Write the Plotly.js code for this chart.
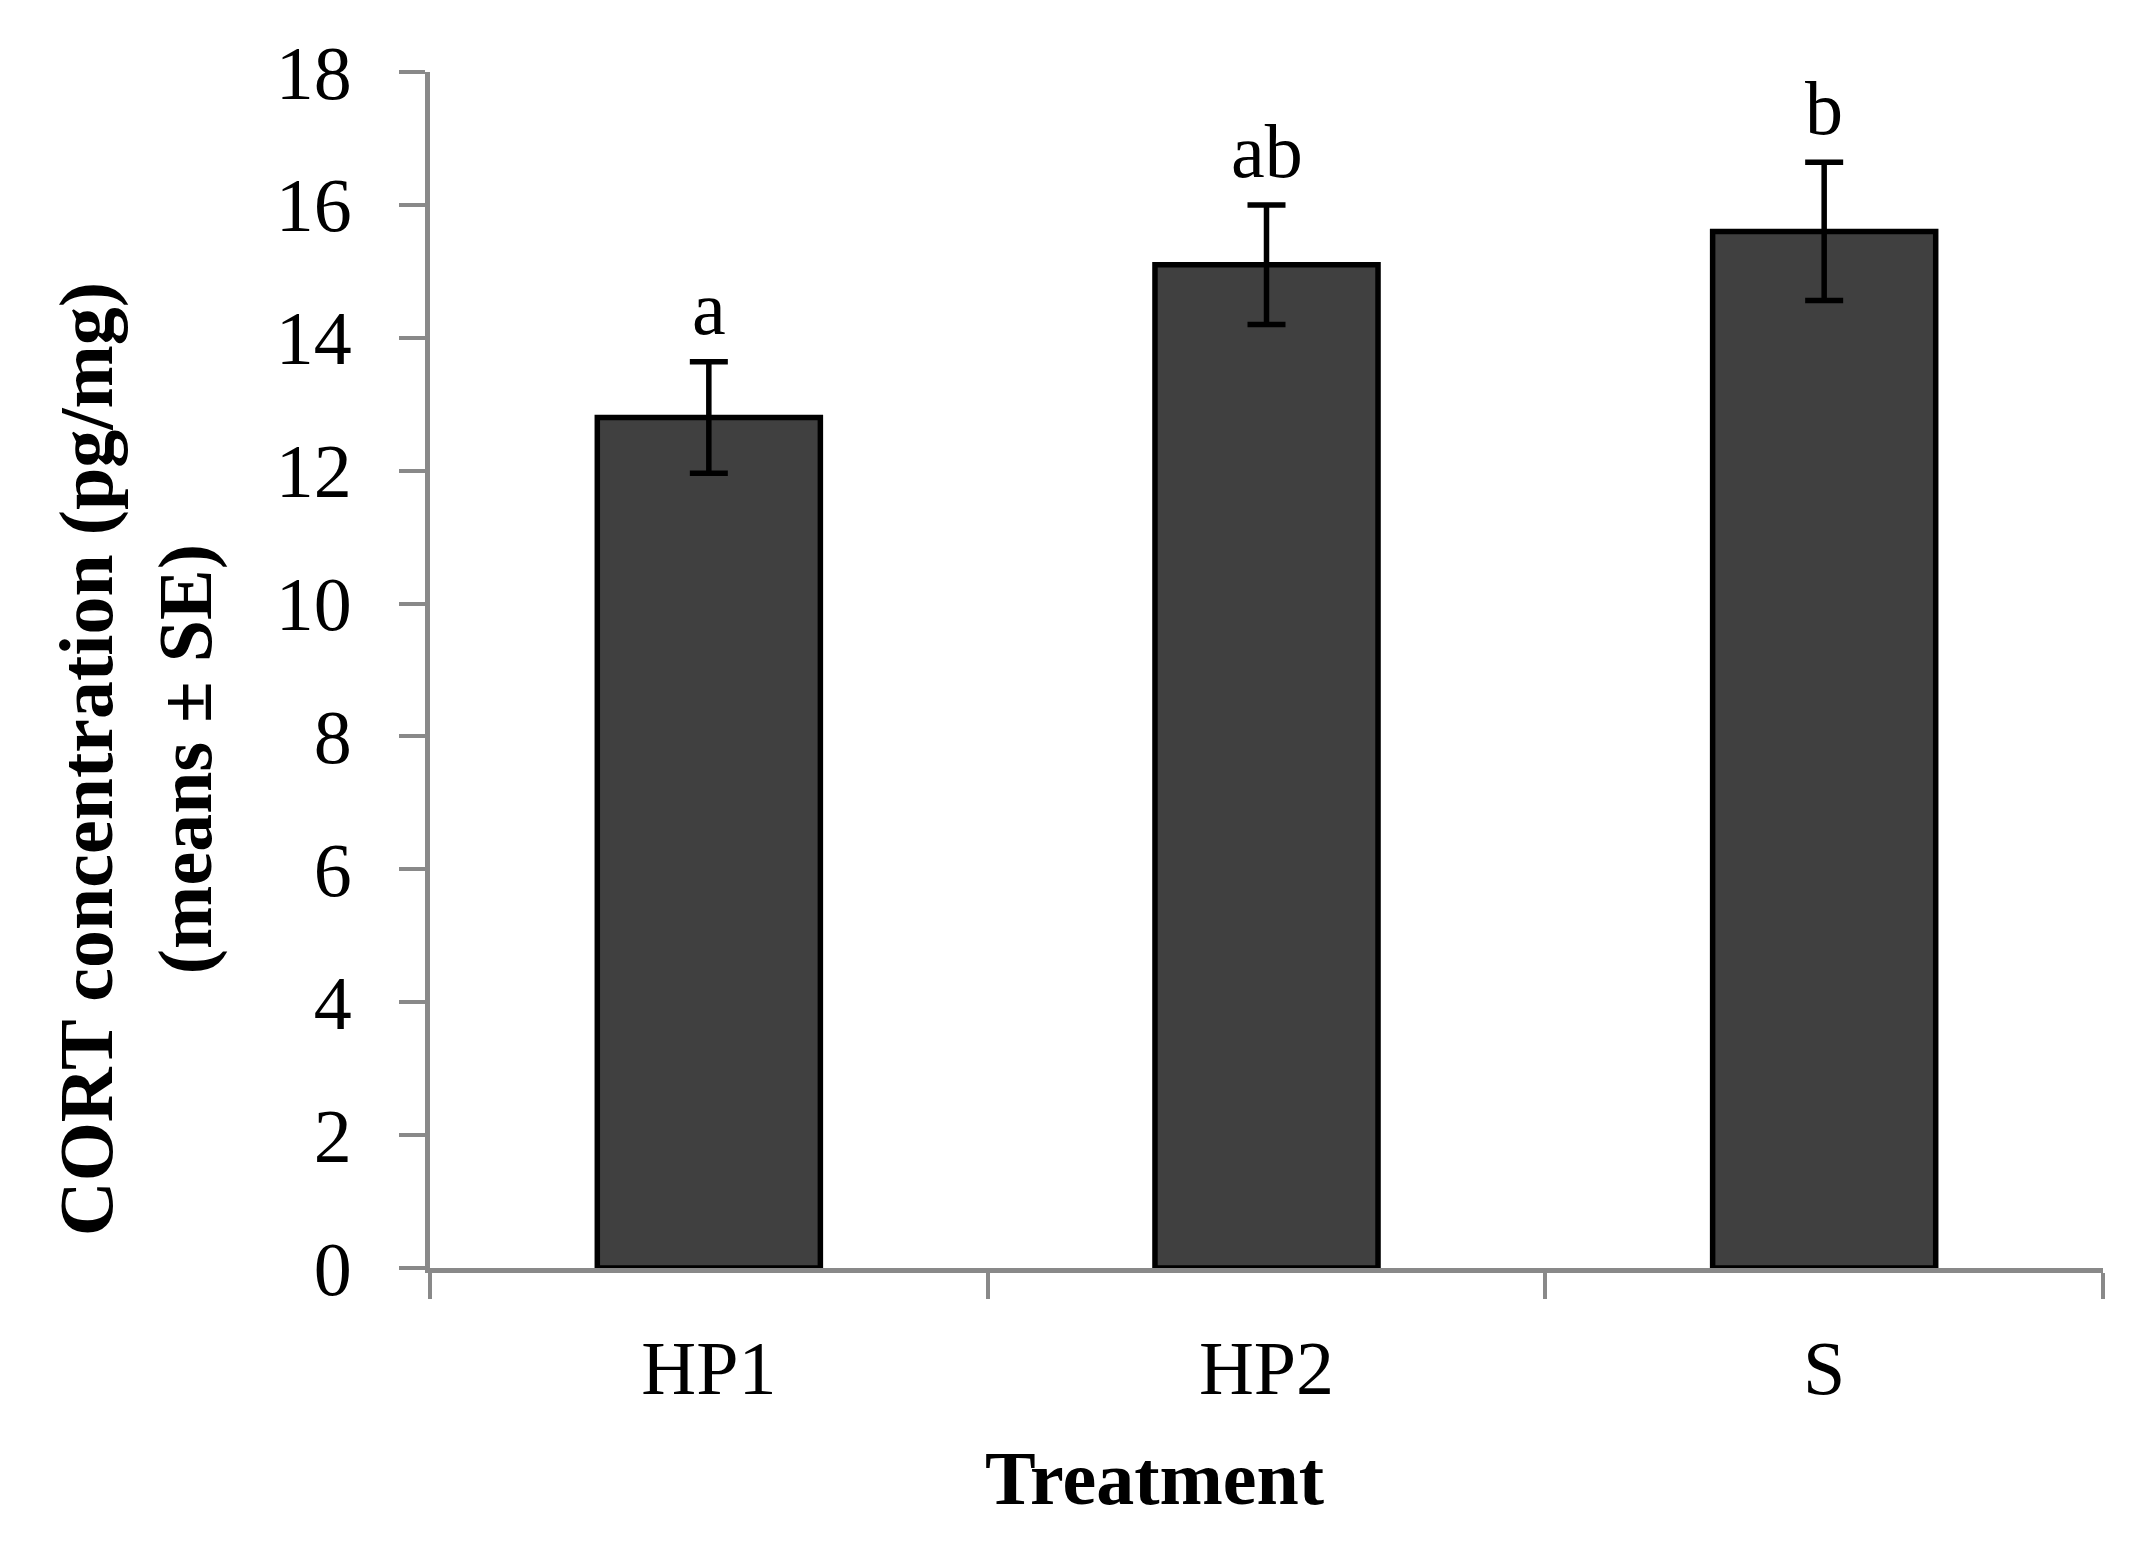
<!DOCTYPE html>
<html>
<head>
<meta charset="utf-8">
<script src="https://cdn.plot.ly/plotly-3.0.1.min.js"></script>
<style>
  html, body { margin: 0; padding: 0; background: #fff; }
  #chart { width: 2148px; height: 1552px; }
</style>
</head>
<body>
<div id="chart"></div>
<script>
// treatment groups and CORT means (pg/mg) with standard errors
const treatments = ['HP1', 'HP2', 'S'];
const means = [12.8, 15.1, 15.6];
const se = [0.84, 0.9, 1.04];
const letters = ['a', 'ab', 'b'];
const yTicks = [0, 2, 4, 6, 8, 10, 12, 14, 16, 18];

const serif = 'Liberation Serif, Times New Roman, serif';
const axisGrey = '#898989';

const bars = {
  type: 'bar',
  x: treatments,
  y: means,
  width: 0.4,
  marker: { color: '#404040', line: { color: '#000', width: 5.5 } },
  error_y: { type: 'data', array: se, visible: true, color: '#000', thickness: 5.5, width: 19 },
  hoverinfo: 'skip'
};

// significance letters sit above each error bar
const letterNotes = treatments.map((t, i) => ({
  x: t, y: means[i] + se[i], xref: 'x', yref: 'y',
  text: letters[i], showarrow: false,
  yanchor: 'bottom', yshift: 10,
  font: { family: serif, size: 76, color: '#000' }
}));

const layout = {
  width: 2148,
  height: 1552,
  margin: { l: 430, r: 45, t: 72, b: 284 },
  paper_bgcolor: '#fff',
  plot_bgcolor: '#fff',
  showlegend: false,
  font: { family: serif, size: 76, color: '#000' },
  xaxis: {
    type: 'category',
    range: [-0.5, 2.5],
    tickson: 'boundaries',
    ticks: 'outside',
    ticklen: 26,
    tickwidth: 4,
    tickcolor: axisGrey,
    showline: true,
    linecolor: axisGrey,
    linewidth: 5,
    showgrid: false,
    zeroline: false,
    ticklabelstandoff: 30,
    tickfont: { family: serif, size: 76, color: '#000' }
  },
  yaxis: {
    range: [0, 18],
    tickvals: yTicks,
    ticks: 'outside',
    ticklen: 26,
    tickwidth: 4,
    tickcolor: axisGrey,
    showline: true,
    linecolor: axisGrey,
    linewidth: 5,
    showgrid: false,
    zeroline: false,
    ticklabelstandoff: 32,
    tickfont: { family: serif, size: 76, color: '#000' }
  },
  annotations: letterNotes.concat([
    {
      text: 'CORT concentration (pg/mg)<br>(means ± SE)',
      xref: 'paper', yref: 'paper', x: -0.176, y: 0.425,
      xanchor: 'center', yanchor: 'middle', textangle: -90, showarrow: false,
      font: { family: serif, size: 76, weight: 'bold', color: '#000' }
    },
    {
      text: 'Treatment',
      xref: 'paper', yref: 'paper', x: 0.433, y: -0.176,
      xanchor: 'center', yanchor: 'middle', showarrow: false,
      font: { family: serif, size: 76, weight: 'bold', color: '#000' }
    }
  ])
};

Plotly.newPlot('chart', [bars], layout, { staticPlot: true, displayModeBar: false });
</script>
</body>
</html>
